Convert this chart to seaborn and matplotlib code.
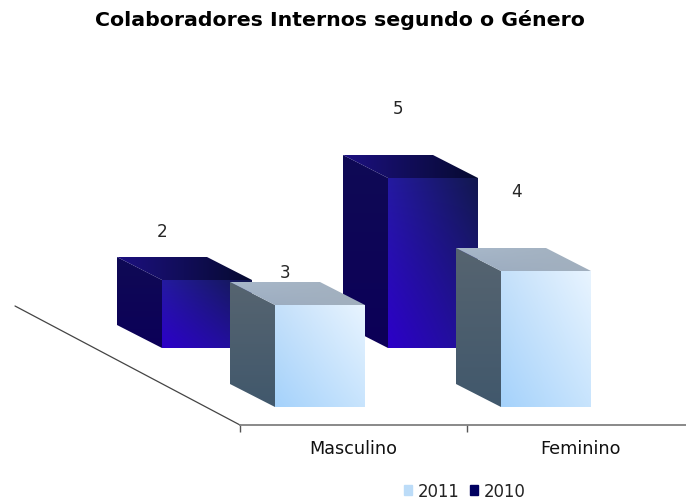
import numpy as np
import pandas as pd
import matplotlib
matplotlib.use("Agg")
import matplotlib.pyplot as plt
from matplotlib.colors import to_rgb
from matplotlib.patches import Polygon, Patch
import seaborn as sns

categories = ["Masculino", "Feminino"]
values_2011 = [3, 4]
values_2010 = [2, 5]

W, H = 686, 502
sns.set_theme(style="white")
plt.rcParams["font.family"] = ["DejaVu Sans"]
fig = plt.figure(figsize=(W / 100, H / 100), dpi=100, facecolor="white")

UNIT_PX = 34.0      # pixels per value unit
CAT_PX = 226.0      # pixels per category
YMAX = 8
DEPTH = (45 / CAT_PX, 23 / UNIT_PX)


def make_axes(x0, y0, cat_px=CAT_PX, height=YMAX * UNIT_PX):
    ax = fig.add_axes([x0 / W, 1 - y0 / H, 2 * cat_px / W, height / H])
    ax.patch.set_alpha(0)
    return ax


def face(ax, verts, corners, zorder=3):
    """Gradient-filled polygon; corners = TL, TR, BL, BR colours."""
    verts = np.asarray(verts)
    n = 64
    u, v = np.meshgrid(np.linspace(0, 1, n), np.linspace(0, 1, n))
    tl, tr, bl, br = [np.array(to_rgb(c)) for c in corners]
    img = ((1 - u)[..., None] * (1 - v)[..., None] * tl + u[..., None] * (1 - v)[..., None] * tr
           + (1 - u)[..., None] * v[..., None] * bl + u[..., None] * v[..., None] * br)
    ext = [verts[:, 0].min(), verts[:, 0].max(), verts[:, 1].min(), verts[:, 1].max()]
    poly = Polygon(verts, closed=True, transform=ax.transData, fc="none", ec="none", zorder=zorder)
    ax.add_patch(poly)
    im = ax.imshow(img, extent=ext, origin="upper", aspect="auto", zorder=zorder,
                   interpolation="bilinear", clip_on=True)
    im.set_clip_path(poly)


def bars3d(ax, values, front, side, top, label_offsets):
    df = pd.DataFrame({"cat": categories, "val": values})
    sns.barplot(data=df, x="cat", y="val", ax=ax, width=90 / CAT_PX, color=front[0],
                saturation=1, errorbar=None, zorder=1)
    bars = list(ax.patches)
    dx, dy = DEPTH
    for b, off, v in zip(bars, label_offsets, values):
        x0, w, h = b.get_x(), b.get_width(), b.get_height()
        b.set_edgecolor("none")
        x1 = x0 + w
        face(ax, [(x0 - dx, dy), (x0, 0), (x0, h), (x0 - dx, h + dy)], side)
        face(ax, [(x0 - dx, h + dy), (x1 - dx, h + dy), (x1, h), (x0, h)], top)
        face(ax, [(x0, 0), (x1, 0), (x1, h), (x0, h)], front)
        ax.annotate(str(v), xy=(x0 + w / 2, h), xytext=off, textcoords="offset pixels",
                    ha="center", va="center", fontsize=12.2, color="#262626",
                    annotation_clip=False, zorder=6)
    ax.set_xlim(-0.5, 1.5)
    ax.set_ylim(0, YMAX)
    ax.set_axis_off()


# floor and category axis
ax_floor = make_axes(240, 426, cat_px=227)
ax_floor.set_xlim(-0.5, 1.5)
ax_floor.set_ylim(0, YMAX)
ax_floor.set_yticks([])
ax_floor.set_xticks([0, 1], categories, fontsize=12.7, color="#111111")
ax_floor.set_xticks([-0.5, 0.5], minor=True)
ax_floor.tick_params(axis="x", which="major", length=0, pad=10)
ax_floor.tick_params(axis="x", which="minor", length=5, width=1, color="#555555", bottom=True)
for s in ["top", "left", "right"]:
    ax_floor.spines[s].set_visible(False)
ax_floor.spines["bottom"].set_color("#808080")
ax_floor.spines["bottom"].set_linewidth(1.3)
ax_floor.plot([-0.5, -0.5 - 225 / 454 * 2], [0, 119 / UNIT_PX], color="#444444", lw=0.9, clip_on=False)
ax_floor.set_xlim(-0.5, 1.5)
ax_floor.set_ylim(0, YMAX)

# back row: 2010, front row: 2011
ax_back = make_axes(94, 349)
bars3d(ax_back, values_2010,
       front=["#241aa0", "#12184f", "#2c00c8", "#201490"],
       side=["#0f0a55", "#0f0a55", "#0c0058", "#0c0058"],
       top=["#1c1080", "#060a30", "#1c1080", "#060a30"],
       label_offsets=[(-45, 49), (-35, 70)])

ax_front = make_axes(207, 408)
bars3d(ax_front, values_2011,
       front=["#c4e0fa", "#e8f4ff", "#a5d2fb", "#c8e4fd"],
       side=["#566470", "#566470", "#41586c", "#41586c"],
       top=["#a8b8ca", "#a2b0be", "#9bacc2", "#a2b0be"],
       label_offsets=[(-34.5, 33), (-29.5, 80)])

fig.text(340 / W, 1 - 19.5 / H, "Colaboradores Internos segundo o Género", ha="center", va="center",
         fontsize=14.75, fontweight="bold", color="black")

fig.legend(handles=[Patch(color="#bcdcf8", label="2011"), Patch(color="#000060", label="2010")],
           loc="center", bbox_to_anchor=(464.5 / W, 1 - 492 / H), ncol=2, frameon=False,
           fontsize=11.9, handlelength=0.52, handleheight=0.52, handletextpad=0.3,
           columnspacing=0.65, labelcolor="#222222", borderpad=0)

fig.savefig("out.png", dpi=100, facecolor="white")
